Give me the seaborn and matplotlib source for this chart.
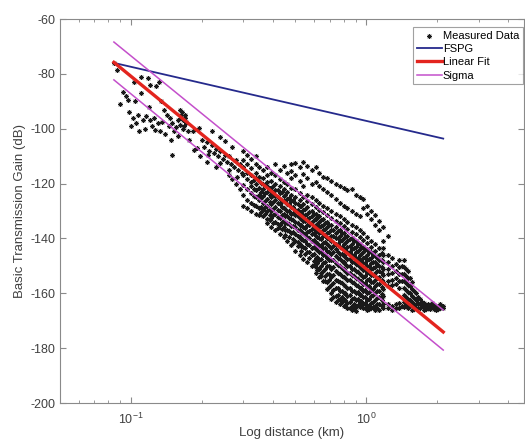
import pandas as pd
import matplotlib
matplotlib.use('Agg')
import matplotlib.pyplot as plt
import seaborn as sns

# Lines (end points, log distance in km, gain in dB)
fspg_dist = [0.0847, 2.12]
fspg_gain = [-76.0, -103.6]
fit_dist = [0.0847, 2.12]
fit_gain = [-75.8, -174.1]
sigma_up_gain = [-68.4, -166.1]
sigma_lo_gain = [-82.2, -180.7]

# Measured data, near the transmitter (distance, gain)
near_pts = [
    (0.085, -76), (0.087, -78.5), (0.093, -86.6), (0.103, -83), (0.11, -81),
    (0.118, -81.5), (0.12, -84), (0.128, -84.5), (0.132, -83), (0.11, -87),
    (0.097, -89.5), (0.104, -90), (0.098, -94), (0.102, -96), (0.105, -98),
    (0.108, -101), (0.1, -99), (0.113, -97), (0.116, -95.5), (0.12, -97),
    (0.123, -99), (0.126, -100.5), (0.13, -98), (0.133, -101), (0.115, -100),
    (0.134, -90), (0.138, -93), (0.142, -95), (0.146, -96), (0.15, -98),
    (0.155, -99.5), (0.158, -97), (0.162, -93), (0.164, -95), (0.166, -97),
    (0.168, -99), (0.165, -94), (0.17, -96), (0.172, -98), (0.167, -100),
    (0.174, -101), (0.148, -104), (0.15, -109.6), (0.176, -104), (0.183, -101),
    (0.195, -99.7), (0.185, -107.7), (0.19, -107), (0.197, -110), (0.09, -91),
    (0.095, -88), (0.14, -102), (0.145, -99), (0.163, -96), (0.169, -95),
    (0.171, -97.5), (0.161, -98.5), (0.107, -95), (0.119, -92), (0.125, -96),
    (0.136, -97.5), (0.153, -101), (0.159, -102.5),
]

band_pts = [
    (0.2, -104), (0.205, -106.5), (0.21, -105), (0.215, -108), (0.22, -106),
    (0.225, -109), (0.23, -107.5), (0.235, -110), (0.24, -108), (0.245, -111),
    (0.25, -109.5), (0.255, -112), (0.26, -110), (0.265, -113), (0.27, -106.7),
    (0.275, -114), (0.28, -111.5), (0.285, -115), (0.29, -113), (0.295, -116),
    (0.21, -112), (0.23, -114), (0.25, -104.5), (0.26, -117), (0.28, -120),
    (0.22, -101), (0.24, -103), (0.27, -118.5), (0.29, -122), (0.212, -109.5),
    (0.238, -112.5), (0.262, -115), (0.283, -117.5),
]

# Measured data, columns of the main cloud {distance: [gains]}
mid_cloud = {
    0.30: [-108, -111.5, -114, -117, -120.5, -124, -128],
    0.31: [-109.5, -113, -116, -118.5, -122, -126, -129],
    0.325: [-111, -114.5, -117, -119.5, -121, -123.5, -127, -130],
    0.34: [-110, -113, -116, -118, -120, -122.5, -125, -128, -131],
    0.35: [-114, -117.5, -119, -121.5, -124, -126, -129, -131.5],
    0.365: [-115, -118, -120, -122, -124.5, -127, -129.5, -132],
    0.38: [-114, -117, -119.5, -121, -123, -125.5, -128, -130, -133, -134.5],
    0.395: [-116, -119, -121.5, -123, -125, -127.5, -130, -132.5, -136],
    0.41: [-113, -117, -120, -122.5, -124.5, -126, -128.5, -131, -134, -137],
    0.43: [-115, -118.5, -121, -123.5, -125.5, -127.5, -130, -132.5, -135, -138.5],
    0.445: [-113.5, -119.5, -122, -124.5, -126.5, -129, -131, -133.5, -136, -139.5],
    0.46: [-116, -120, -123, -125.5, -127.5, -130, -132, -134.5, -137, -141],
    0.48: [-113, -115.5, -118, -121.5, -124, -126.5, -128.5, -131, -133, -135.5, -138, -142.5],
    0.50: [-112.5, -117, -122, -125, -127, -129.5, -131.5, -134, -136, -138.5, -141, -144.5],
    0.52: [-114, -119, -123.5, -126, -128, -130.5, -132.5, -135, -137, -139.5, -142, -146],
    0.54: [-112, -116.5, -121, -125, -127.5, -129.5, -131.5, -133.5, -136, -138, -140.5, -143, -147.5],
    0.56: [-113.5, -118, -124, -126.5, -128.5, -131, -133, -135, -137.5, -139.5, -142, -145, -148.5],
    0.585: [-115, -120, -125, -127.5, -130, -132, -134, -136.5, -138.5, -141, -143.5, -146, -150],
}

far_cloud = {
    0.61: [-114, -119.5, -126, -128.5, -131, -133, -135, -137, -139, -141.5, -144, -147, -150.5, -152.5],
    0.63: [-116, -121, -127, -129.5, -132, -134, -136, -138, -140, -142.5, -145, -148, -151, -154],
    0.655: [-117.5, -122, -128, -130.5, -133, -135, -137, -139, -141.5, -143.5, -146, -149, -152, -155.5],
    0.68: [-118, -123, -129, -131.5, -134, -136, -138, -140, -142, -144.5, -147, -150, -153, -156, -158.5],
    0.71: [-119, -124, -130, -132.5, -135, -137, -139, -141, -143.5, -145.5, -148, -151, -154, -157, -160, -162],
    0.74: [-120, -125.5, -131, -133.5, -136, -138, -140, -142, -144, -146.5, -149, -152, -155, -158, -161, -163],
    0.77: [-121, -127, -132, -134.5, -137, -139, -141, -143, -145.5, -147.5, -150, -153, -156, -159, -162, -164],
    0.80: [-121.5, -128, -133, -135.5, -138, -140, -142, -144, -146, -148.5, -151, -154, -157, -160, -162.5, -164.5],
    0.83: [-122.5, -129, -134, -136.5, -139, -141, -143, -145, -147.5, -150, -152.5, -155, -158, -161, -163.5, -165.5],
    0.865: [-122, -130, -135, -137.5, -140, -142, -144, -146, -148.5, -151, -153.5, -156, -159, -162, -164.5, -166],
    0.90: [-124, -131, -136, -138.5, -141, -143, -145, -147, -149.5, -152, -154.5, -157, -160, -162.5, -165, -166.5],
    0.935: [-125, -132, -137, -139.5, -142, -144, -146, -148, -150.5, -153, -155.5, -158, -160.5, -163, -165],
    0.97: [-125.5, -129, -138, -140.5, -143, -145, -147, -149, -151.5, -154, -156.5, -159, -161.5, -164, -165.5],
    1.01: [-128, -131, -139.5, -141.5, -144, -146, -148, -150, -152.5, -155, -157.5, -160, -162.5, -164.5, -166],
    1.05: [-130, -133, -141, -143, -145, -147, -149, -151, -153.5, -156, -158.5, -161, -163.5, -165.5],
    1.09: [-131.5, -135, -142, -144.5, -146.5, -148.5, -150.5, -152.5, -155, -157.5, -160, -162.5, -164.5, -166],
    1.135: [-133.5, -137, -143.5, -146, -148, -150, -152, -154, -156.5, -159, -161.5, -164, -166],
}

# denser core points between the columns above
core_fill = {
    0.333: [-118.7, -121.9, -124.6, -127.8],
    0.357: [-119.8, -123.1, -125.4, -128.6, -130.3],
    0.372: [-120.6, -123.4, -126.3, -128.7, -131.1],
    0.388: [-121.7, -124.3, -126.6, -129.2, -131.4, -133.2],
    0.403: [-120.8, -123.9, -126.7, -129.1, -131.6, -134.4],
    0.42: [-122.3, -124.8, -127.1, -129.6, -132.2, -134.8, -136.1],
    0.437: [-123.2, -126.2, -128.7, -131.4, -133.9, -136.6],
    0.453: [-124.1, -126.8, -129.3, -131.8, -134.2, -136.8, -138.7],
    0.47: [-125.2, -127.6, -130.1, -132.4, -134.9, -137.3, -139.6],
    0.49: [-126.1, -128.4, -130.7, -133.2, -135.3, -137.6, -140.2, -141.8],
    0.51: [-127.3, -129.6, -131.9, -134.4, -136.8, -139.1, -141.4, -142.9],
    0.53: [-128.2, -130.4, -132.8, -135.2, -137.7, -140.3, -142.7, -144.6],
    0.55: [-129.1, -131.3, -133.6, -136.1, -138.7, -141.1, -143.6, -145.8],
    0.572: [-130.2, -132.6, -135.1, -137.4, -139.8, -142.3, -144.8, -147.3],
    0.597: [-131.1, -133.4, -135.8, -138.2, -140.6, -143.1, -145.5, -148.2, -149.6],
    0.62: [-132.2, -134.6, -136.9, -139.3, -141.7, -144.2, -146.6, -149.1, -151.4],
    0.642: [-133.1, -135.4, -137.8, -140.3, -142.8, -145.1, -147.6, -150.2, -152.6, -153.8],
    0.667: [-134.2, -136.6, -138.9, -141.3, -143.6, -146.1, -148.7, -151.2, -153.6, -155.7],
    0.695: [-135.1, -137.6, -140.2, -142.6, -145.1, -147.7, -150.2, -152.8, -155.3, -157.8],
    0.725: [-136.8, -139.2, -142.6, -145.1, -147.7, -150.4, -153.2, -156.1, -158.8, -161.2],
    0.755: [-137.3, -139.7, -142.2, -144.8, -147.3, -149.8, -152.6, -155.4, -158.2, -160.6, -162.4],
    0.785: [-138.2, -140.6, -143.1, -145.7, -148.2, -150.8, -153.6, -156.4, -159.1, -161.4, -163.3],
    0.815: [-139.3, -141.8, -144.2, -146.8, -149.3, -151.8, -154.4, -157.2, -159.8, -162.3, -164.2],
    0.848: [-140.2, -142.6, -145.1, -147.6, -150.2, -152.7, -155.3, -158.1, -160.6, -163.1, -165.2],
    0.882: [-141.1, -143.6, -146.2, -148.7, -151.3, -153.8, -156.4, -159.1, -161.6, -163.8, -165.8],
    0.918: [-142.2, -144.6, -147.1, -149.6, -152.2, -154.7, -157.3, -159.7, -162.2, -164.3],
    0.952: [-143.1, -145.6, -148.1, -150.6, -153.2, -155.6, -158.1, -160.5, -162.8, -164.6],
    0.99: [-144.2, -146.6, -149.1, -151.4, -153.8, -156.4, -158.8, -161.2, -163.4, -165.2],
    1.03: [-145.1, -147.6, -150.1, -152.3, -154.8, -157.2, -159.6, -162.1, -164.2, -165.8],
    1.07: [-146.2, -148.6, -150.9, -153.4, -155.8, -158.3, -160.7, -163.1, -165.1],
    1.11: [-147.1, -149.4, -151.8, -154.3, -156.6, -159.2, -161.6, -163.8, -165.4],
    1.16: [-145.2, -147.8, -150.3, -152.7, -155.2, -157.6, -160.1, -162.6, -164.8],
}

tail_cloud = {
    1.18: [-136, -141, -143.5, -146, -148.5, -151, -153.5, -156, -158.5, -161, -164, -165.5],
    1.23: [-139, -146, -148.5, -151, -153, -155.5, -157.5, -164, -165.5],
    1.28: [-147, -150, -152.5, -155, -157, -164.5, -166],
    1.33: [-149.5, -152, -154.5, -156.5, -164, -165.5],
    1.38: [-148, -150.5, -153, -155.5, -158, -163.5, -165.5],
    1.41: [-150.2, -152.8, -155.4, -164.6],
    1.44: [-148, -150.5, -153, -155.5, -158, -160.5, -163, -165],
    1.47: [-151.3, -153.8, -156.3, -158.9, -161.4, -164.2],
    1.50: [-152, -154.5, -157, -159.5, -162, -164, -165.5],
    1.53: [-154.6, -157.2, -159.8, -162.4, -164.8],
    1.56: [-156, -158.5, -161, -163, -164.5, -166],
    1.59: [-159.2, -161.8, -164.2, -165.6],
    1.62: [-160, -162.5, -164, -165.5],
    1.655: [-161.3, -163.4, -165.2],
    1.69: [-162, -164, -165.5],
    1.72: [-163.1, -164.8],
    1.76: [-163.5, -165, -166],
    1.80: [-164.2, -165.7],
    1.83: [-164, -165.5],
    1.87: [-164.6, -165.8],
    1.90: [-163.5, -165],
    1.94: [-164.3, -165.6],
    1.98: [-164.5, -166],
    2.02: [-164.8, -165.9],
    2.06: [-164, -165.5],
    2.12: [-164.5, -165.5],
}

# build one table of measured points
rows = list(near_pts) + list(band_pts)
for cloud in (mid_cloud, far_cloud, core_fill, tail_cloud):
    for d, gains in cloud.items():
        rows += [(d, g) for g in gains]
df = pd.DataFrame(rows, columns=['distance', 'gain'])

plt.rcParams['font.family'] = ['Liberation Sans', 'DejaVu Sans']
plt.rcParams['mathtext.default'] = 'regular'
plt.rcParams['axes.unicode_minus'] = False

fig = plt.figure(figsize=(5.25, 4.42), dpi=100)
ax = fig.add_axes([60 / 525, 1 - 403 / 442, 464 / 525, 384 / 442])
ax.set_xscale('log')

sns.scatterplot(data=df, x='distance', y='gain', marker=(8, 2, 0), s=9,
                color='#1a1a1a', edgecolor='#1a1a1a', linewidth=0.6,
                label='Measured Data', ax=ax, zorder=2)
sns.lineplot(x=fspg_dist, y=fspg_gain, color='#252a8c', linewidth=1.3,
             label='FSPG', ax=ax, zorder=3)
sns.lineplot(x=fit_dist, y=fit_gain, color='#e3241e', linewidth=2.4,
             label='Linear Fit', ax=ax, zorder=4)
sns.lineplot(x=fit_dist, y=sigma_up_gain, color='#c44fcb', linewidth=1.1,
             label='Sigma', ax=ax, zorder=4)
sns.lineplot(x=fit_dist, y=sigma_lo_gain, color='#c44fcb', linewidth=1.1,
             ax=ax, zorder=4)

ax.set_xlim(0.05, 4.67)
ax.set_ylim(-200, -60)
ax.set_yticks(range(-200, -59, 20))
ax.set_xlabel('Log distance (km)', fontsize=9.5, color='#404040', labelpad=0)
ax.set_ylabel('Basic Transmission Gain (dB)', fontsize=9.5, color='#404040', labelpad=3)

for side in ['top', 'bottom', 'left', 'right']:
    ax.spines[side].set_color('#8a8a8a')
    ax.spines[side].set_linewidth(0.8)
ax.tick_params(which='both', direction='in', top=True, right=True,
               colors='#8a8a8a', labelcolor='#404040', labelsize=9)
ax.tick_params(axis='x', which='major', pad=6)
ax.tick_params(which='major', length=4)
ax.tick_params(which='minor', length=2)

leg = ax.legend(loc='upper right', bbox_to_anchor=(0.998, 0.98), borderaxespad=0,
                fontsize=8, frameon=True, fancybox=False, handlelength=2.2,
                handletextpad=0.1, labelspacing=0.3, borderpad=0.35)
leg.get_frame().set_edgecolor('#8a8a8a')
leg.get_frame().set_linewidth(0.8)

plt.savefig('out.png', dpi=100)
